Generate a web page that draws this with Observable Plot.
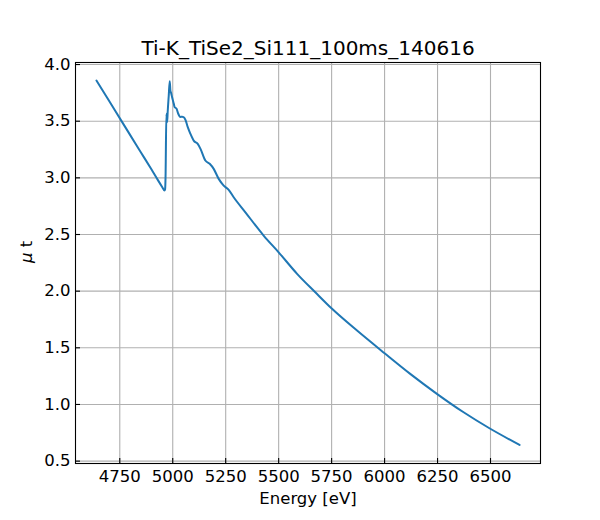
<!DOCTYPE html>
<html>
<head>
<meta charset="utf-8">
<script src="https://cdn.jsdelivr.net/npm/d3@7"></script>
<script src="https://cdn.jsdelivr.net/npm/@observablehq/plot@0.6"></script>
<style>
  body { margin: 0; background: #fff; }
  #chart { width: 600px; height: 520px; }
</style>
</head>
<body>
<div id="chart"></div>
<script>
const title = "Ti-K_TiSe2_Si111_100ms_140616";
const xLabel = "Energy [eV]";
const yLabel = "μ t";
const xTicks = [4750, 5000, 5250, 5500, 5750, 6000, 6250, 6500];
const yTicks = [0.5, 1.0, 1.5, 2.0, 2.5, 3.0, 3.5, 4.0];

const energy = [4640, 4700, 4757, 4800, 4850, 4900, 4930, 4950, 4961, 4964, 4966, 4970, 4973.6, 4976.4, 4981, 4985.8,
  4989, 4992, 4997, 5004.7, 5009.4, 5017.5, 5025.5, 5036, 5044, 5052, 5060, 5071, 5083.5, 5099, 5118, 5131,
  5154, 5174.5, 5193.4, 5217, 5240.6, 5264.2, 5287.7, 5343, 5429, 5500, 5587, 5673, 5752, 5870, 6000, 6121,
  6247, 6373, 6495, 6637];
const mu = [3.859, 3.678, 3.505, 3.375, 3.224, 3.073, 2.98, 2.92, 2.888, 2.90, 3.00, 3.565, 3.49, 3.59, 3.72, 3.853,
  3.77, 3.75, 3.711, 3.656, 3.623, 3.612, 3.568, 3.538, 3.54, 3.535, 3.512, 3.447, 3.388, 3.329, 3.300, 3.256,
  3.153, 3.124, 3.079, 2.991, 2.932, 2.894, 2.829, 2.696, 2.491, 2.343, 2.153, 1.990, 1.844, 1.652, 1.452, 1.270,
  1.094, 0.931, 0.790, 0.643];

const data = energy.map((e, i) => ({e, m: mu[i]}));

const W = 600, H = 520, mL = 75, mR = 60, mT = 62, mB = 57;
const innerW = W - mL - mR, innerH = H - mT - mB;
const fs = 16.5;

const chart = Plot.plot({
  width: W,
  height: H,
  marginLeft: mL,
  marginRight: mR,
  marginTop: mT,
  marginBottom: mB,
  style: {fontFamily: "DejaVu Sans", fontSize: fs + "px", color: "#000", background: "#fff"},
  x: {domain: [4541, 6736], label: null},
  y: {domain: [0.479, 4.018], label: null},
  marks: [
    Plot.gridX(xTicks, {stroke: "#b0b0b0", strokeOpacity: 1, strokeWidth: 1.1}),
    Plot.gridY(yTicks, {stroke: "#b0b0b0", strokeOpacity: 1, strokeWidth: 1.1}),
    Plot.line(data, {x: "e", y: "m", stroke: "#1f77b4", strokeWidth: 2, curve: "monotone-x"}),
    Plot.tickX(xTicks, {x: d => d, stroke: "black", strokeWidth: 1.1, insetTop: innerH - 5}),
    Plot.tickY(yTicks, {y: d => d, stroke: "black", strokeWidth: 1.1, insetRight: innerW - 5}),
    Plot.axisX(xTicks, {tickSize: 0, tickPadding: 7, fontSize: fs, tickFormat: d3.format("d")}),
    Plot.axisY(yTicks, {tickSize: 0, tickPadding: 5, fontSize: fs, tickFormat: d3.format(".1f")}),
    Plot.frame({stroke: "black", strokeWidth: 1.1}),
    Plot.text([xLabel], {frameAnchor: "bottom", dy: 35.5, lineAnchor: "middle", fontSize: fs, fill: "black"}),
    Plot.text([yLabel], {frameAnchor: "left", dx: -48.5, rotate: -90, lineAnchor: "middle", fontSize: fs, fill: "black", className: "ylab"}),
    Plot.text([title], {frameAnchor: "top", dy: -14, lineAnchor: "middle", fontSize: 20, fill: "black"})
  ]
});
document.getElementById("chart").appendChild(chart);
// italic mu as in mathtext
const yl = chart.querySelector(".ylab text");
if (yl) {
  yl.textContent = "";
  const ns = "http://www.w3.org/2000/svg";
  const t1 = document.createElementNS(ns, "tspan");
  t1.setAttribute("font-style", "italic");
  t1.textContent = "μ";
  const t2 = document.createElementNS(ns, "tspan");
  t2.textContent = " t";
  yl.appendChild(t1);
  yl.appendChild(t2);
}
</script>
</body>
</html>
